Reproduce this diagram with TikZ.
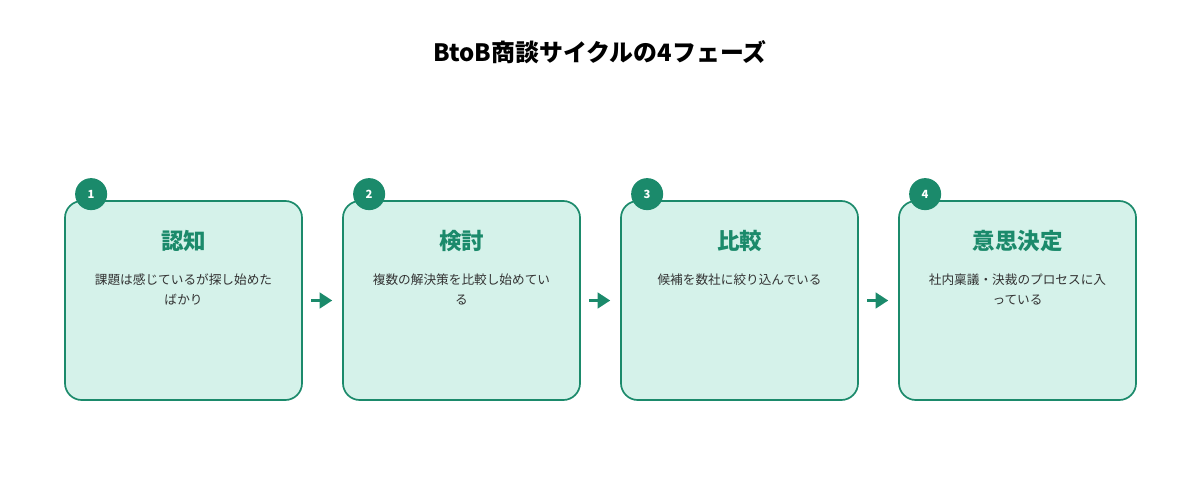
\documentclass[tikz,border=0pt]{standalone}
\usepackage{fontspec}
\setmainfont{Noto Sans CJK JP}
\usetikzlibrary{positioning, arrows.meta}
\definecolor{phasegreen}{HTML}{1B8A6B}
\definecolor{phasefill}{HTML}{D5F2EA}
\definecolor{bodygray}{HTML}{333333}

\tikzset{
  phase/.style={draw=phasegreen, fill=phasefill, line width=1.2pt, rounded corners=12pt,
    minimum width=5.925cm, minimum height=4.975cm},
  badge/.style={circle, fill=phasegreen, minimum size=0.8cm, inner sep=0pt,
    text=white, font=\fontsize{8}{8}\selectfont\bfseries},
  heading/.style={text=phasegreen, font=\fontsize{16}{16}\selectfont\bfseries},
  body/.style={text=bodygray, align=center, font=\fontsize{9}{14}\selectfont},
  phasearrow/.style={-{Triangle[length=9pt,width=11pt]}, phasegreen, line width=2.2pt,
    shorten <=6pt, shorten >=7pt}
}

\begin{document}
\begin{tikzpicture}[x=0.025cm, y=-0.025cm]
  \useasboundingbox (0,0) rectangle (1200,500);

  \node[font=\fontsize{17}{17}\selectfont\bfseries, text=black] (title) at (600,52) {BtoB商談サイクルの4フェーズ};

  % phases
  \foreach \i/\x/\name/\desc in {
      1/183.5/認知/課題は感じているが探し始めた\\ばかり,
      2/461.5/検討/複数の解決策を比較し始めてい\\る,
      3/739.5/比較/候補を数社に絞り込んでいる,
      4/1017.5/意思決定/社内稟議・決裁のプロセスに入\\っている} {
    \node[phase] (box\i) at (\x,300.5) {};
    \node[badge] (num\i) at ([xshift=0.675cm, yshift=0.15cm]box\i.north west) {\i};
    \node[heading] (head\i) at ([yshift=-1.025cm]box\i.north) {\name};
    \node[body, anchor=north] (desc\i) at ([yshift=-1.72cm]box\i.north) {\desc};
  }

  % arrows between phases
  \foreach \i/\j in {1/2, 2/3, 3/4}
    \draw[phasearrow] (box\i.east) -- (box\j.west);
\end{tikzpicture}
\end{document}
